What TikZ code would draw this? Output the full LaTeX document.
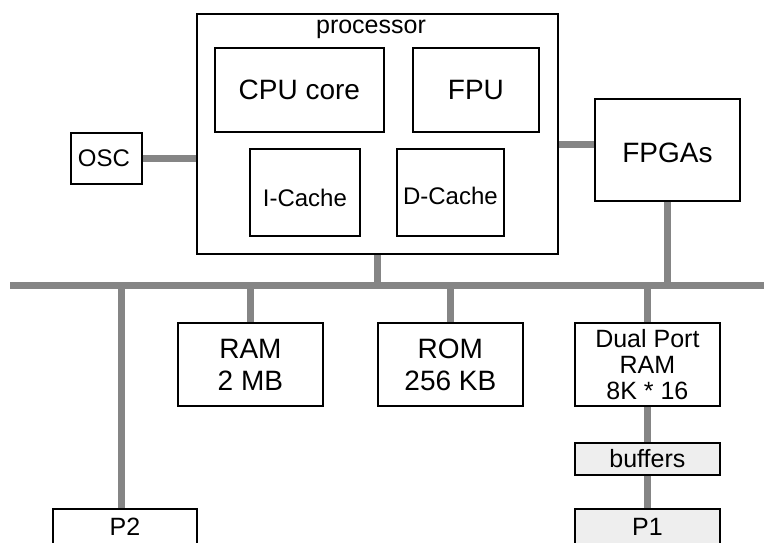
\documentclass[tikz,border=0pt]{standalone}
\usepackage{fontspec}
\setmainfont{Liberation Sans}
\definecolor{busgray}{HTML}{858585}
\definecolor{buffill}{HTML}{EEEEEE}
\newcommand{\shiftv}[2]{\raisebox{#1}[\height][\depth]{#2}}
\tikzset{
  box/.style={draw=black, line width=1.8pt, fill=white, anchor=north west, inner sep=0pt, align=center},
  bigtext/.style={font=\fontsize{28}{32}\selectfont},
  midtext/.style={font=\fontsize{25}{26}\selectfont},
  cachetext/.style={font=\fontsize{24}{26}\selectfont},
  osctext/.style={font=\fontsize{24}{26}\selectfont},
  wire/.style={draw=busgray, line width=7pt, line cap=butt},
}
\begin{document}
\begin{tikzpicture}[x=1pt,y=-1pt]
\clip (0,0) rectangle (764,542);
\fill[white] (0,0) rectangle (764,542);
% processor and internals
\node[box, minimum width=361pt, minimum height=240pt] (proc) at (196,13) {};
\node[midtext, anchor=base] (proclabel) at (371,33) {processor};
\node[box, bigtext, minimum width=169pt, minimum height=84pt] (cpu) at (214,47) {CPU core};
\node[box, bigtext, minimum width=126pt, minimum height=84pt] (fpu) at (412,47) {FPU};
\node[box, cachetext, minimum width=110pt, minimum height=87pt] (icache) at (249,148) {\shiftv{-6pt}{I-Cache}};
\node[box, cachetext, minimum width=107pt, minimum height=87pt] (dcache) at (396,148) {\shiftv{-3.5pt}{D-Cache}};
% OSC and FPGAs
\node[box, osctext, minimum width=71pt, minimum height=51pt] (osc) at (70,132) {OSC\hspace{5pt}};
\node[box, bigtext, minimum width=145pt, minimum height=102pt] (fpga) at (594,98) {\shiftv{-3pt}{FPGAs}};
% memory
\node[box, bigtext, minimum width=145pt, minimum height=83pt] (ram) at (177,322) {RAM\\2 MB};
\node[box, bigtext, minimum width=145pt, minimum height=83pt] (rom) at (377,322) {ROM\\256 KB};
\node[box, midtext, minimum width=145pt, minimum height=83pt] (dpram) at (574,322) {Dual Port\\RAM\\8K * 16};
\node[box, midtext, fill=buffill, minimum width=145pt, minimum height=32pt] (buf) at (574,442) {buffers};
\node[box, midtext, fill=buffill, minimum width=145pt, minimum height=42pt] (p1) at (574,508) {\shiftv{3pt}{P1}};
\node[box, midtext, minimum width=144pt, minimum height=42pt] (p2) at (52,508) {\shiftv{3pt}{P2}};
% bus
\coordinate (busL) at (10,285);
\coordinate (busR) at (764,285);
\draw[wire] (busL) -- (busR);
% connectors
\draw[wire] (osc.east) -- (osc.east -| proc.west);
\draw[wire] ([yshift=5pt]fpga.west) -- ([yshift=5pt]fpga.west -| proc.east);
\draw[wire] (proc.south) -- (proc.south |- busL);
\draw[wire] (fpga.south) -- (fpga.south |- busL);
\draw[wire] (ram.north) -- (ram.north |- busL);
\draw[wire] (rom.north) -- (rom.north |- busL);
\draw[wire] (dpram.north) -- (dpram.north |- busL);
\draw[wire] (p2.north -| 121,0) -- (121,285);
\draw[wire] (dpram.south) -- (buf.north);
\draw[wire] (buf.south) -- (p1.north);
\end{tikzpicture}
\end{document}
